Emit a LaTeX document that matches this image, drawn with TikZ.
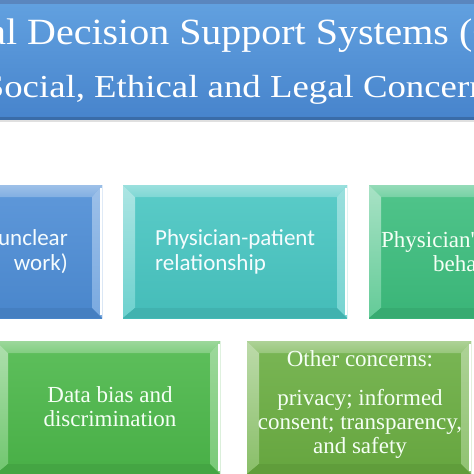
\documentclass[tikz,border=0pt]{standalone}
\usepackage{fontspec}
\setmainfont{Liberation Serif}
\newfontfamily\calfont{Carlito}
\newfontfamily\serfont{Liberation Serif}
\usetikzlibrary{calc}
\definecolor{bannerA}{HTML}{62A1E0}
\definecolor{bannerB}{HTML}{4784CC}
\definecolor{bannerTop}{HTML}{5A86BE}
\definecolor{bannerDark}{HTML}{3A6CA8}
\definecolor{cBlue}{HTML}{4D8DD6}
\definecolor{cTeal}{HTML}{48C6C2}
\definecolor{cSea}{HTML}{3DBE7E}
\definecolor{cGreen}{HTML}{4CB84A}
\definecolor{cOlive}{HTML}{6BAE42}
\newcommand\mybevel[2]{%
  \shade[top color=#2!55!white, bottom color=#2!70!white] (#1.north west) -- (#1.north east) -- ($(#1.north east)+(-10,12)$) -- ($(#1.north west)+(12,12)$) -- cycle;
  \shade[top color=#2!45!white, bottom color=#2!80!white] (#1.north west) -- ($(#1.north west)+(12,12)$) -- ($(#1.south west)+(12,-10)$) -- (#1.south west) -- cycle;
  \shade[top color=#2!55!white, bottom color=#2!75!white] (#1.north east) -- (#1.south east) -- ($(#1.south east)+(-10,-10)$) -- ($(#1.north east)+(-10,12)$) -- cycle;
  \fill[#2!90!black] (#1.south west) -- ($(#1.south west)+(12,-10)$) -- ($(#1.south east)+(-10,-10)$) -- (#1.south east) -- cycle;
  \draw[white, line width=2pt] ($(#1.north east)+(-1,3)$) -- ($(#1.south east)+(-1,-3)$);
}
\begin{document}
\begin{tikzpicture}[x=1pt,y=-1pt,
  face/.style={draw=none, inner sep=0pt, outer sep=0pt, minimum width=224pt, minimum height=133pt},
  ttl/.style={text=white, inner sep=0pt},
  sanslbl/.style={text=white!96!cyan, inner sep=0pt, font=\calfont\fontsize{23}{25}\selectfont},
  seriflbl/.style={text=white!96!green, inner sep=0pt, font=\serfont\fontsize{23}{24}\selectfont},
]
\useasboundingbox (0,0) rectangle (474,474);
\clip (0,0) rectangle (474,474);
\fill[white] (0,0) rectangle (474,474);

% banner
\node[draw=none, inner sep=0pt, outer sep=0pt, minimum width=540pt, minimum height=118pt,
      top color=bannerA, bottom color=bannerB] (banner) at (237,59) {};
\fill[bannerTop] (banner.north west) rectangle ($(banner.north east)+(0,4)$);
\fill[bannerDark] ($(banner.south west)+(0,-1)$) rectangle ($(banner.south east)+(0,2)$);
\fill[black!12] ($(banner.south west)+(0,2)$) rectangle ($(banner.south east)+(0,4)$);
\node[ttl, anchor=base west, xscale=1.08, font=\serfont\fontsize{37}{40}\selectfont] (t1) at (27,44)
  {\llap{Clinical }Decision Support Systems (CDSS)};
\node[ttl, anchor=base west, xscale=1.15, font=\serfont\fontsize{32}{40}\selectfont] (t2) at (94,97)
  {\llap{Social, }Ethical and Legal Concerns};

% row 1
\node[face, top color=cBlue!90!white, bottom color=cBlue!95!black] (b1) at (-10,251.5) {};
\mybevel{b1}{cBlue}
\node[face, top color=cTeal!90!white, bottom color=cTeal!95!black] (b2) at (235,251.5) {};
\mybevel{b2}{cTeal}
\node[face, top color=cSea!90!white, bottom color=cSea!95!black] (b3) at (481,251.5) {};
\mybevel{b3}{cSea}
% row 2
\node[face, top color=cGreen!90!white, bottom color=cGreen!95!black] (b4) at (108,407.5) {};
\mybevel{b4}{cGreen}
\node[face, top color=cOlive!90!white, bottom color=cOlive!95!black] (b5) at (359,407.5) {};
\mybevel{b5}{cOlive}

% labels (multi-line nodes: base = last line's baseline)
\node[sanslbl, anchor=base east, align=right] (l1) at (68,270) {unclear\\work)};
\node[sanslbl, anchor=base west, align=left] (l2) at (155,270) {Physician-patient\\relationship};
\node[seriflbl, anchor=base west] (l3a) at (381,247) {Physician's};
\node[seriflbl, anchor=base west] (l3b) at (433,271) {behavior};
\node[seriflbl, anchor=base, align=center] (l4) at (110,426) {Data bias and\\discrimination};
\node[seriflbl, anchor=base] (l5a) at (360,366) {Other concerns:};
\node[seriflbl, anchor=base, align=center] (l5b) at (360,453) {privacy; informed\\consent; transparency,\\and safety};
\end{tikzpicture}
\end{document}
